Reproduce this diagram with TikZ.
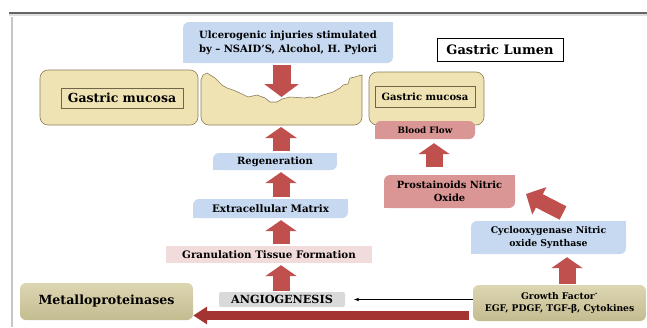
\documentclass[tikz,border=0pt]{standalone}
\usepackage{fontspec}
\setmainfont{DejaVu Serif}
\usetikzlibrary{arrows.meta,backgrounds}
\definecolor{ared}{HTML}{C0504D}
\definecolor{adark}{HTML}{A33432}
\definecolor{lblue}{HTML}{C6D9F1}
\definecolor{lpink}{HTML}{F2DCDB}
\definecolor{mpink}{HTML}{DA9694}
\definecolor{muc}{HTML}{EFE2B3}
\definecolor{mucd}{HTML}{8C7E5A}
\definecolor{khakit}{HTML}{DCD6B2}
\definecolor{khakib}{HTML}{C4BC90}
\definecolor{lgray}{HTML}{D9D9D9}
\newcommand\fsz[2]{\fontsize{#1}{#2}\selectfont}
\newcommand\sqc[3]{\fill[#2] (#1.north east) rectangle ++(-#3,#3); \fill[#2] (#1.south west) rectangle ++(#3,-#3);}
\tikzset{
  box/.style={inner sep=0pt, align=center},
  diagbox/.style={box, rounded corners=6pt},
  blk/.style={ared, line width=17pt, -{Triangle[width=31pt 0 0,length=11pt 0 0]}, shorten <=2pt, shorten >=2pt},
  mucbox/.style={draw=mucd, fill=muc, line width=0.6pt, rounded corners=8pt, inner sep=0pt},
  khaki/.style={box, top color=khakit, bottom color=khakib, rounded corners=6pt},
}
\begin{document}
\begin{tikzpicture}[x=1pt,y=-1pt]
\useasboundingbox (0,0) rectangle (647,327);
% frame lines
\fill[gray!25] (9,13) rectangle (647,16);
\draw[gray!80!black, line width=1.2pt] (9,13) -- (647,13);
\draw[gray!45, line width=1.6pt] (12,17) -- (12,327);

% top
\node[diagbox, fill=lblue, minimum width=210pt, minimum height=41pt, font=\bfseries\fsz{10}{14}] (ulc) at (288,42.5)
  {Ulcerogenic injuries stimulated\\by – NSAID’S, Alcohol, H. Pylori};
\node[box, draw=black, line width=0.5pt, fill=white, minimum width=126pt, minimum height=23pt, font=\bfseries\fsz{13}{14}] (lumen) at (500,49.5)
  {Gastric Lumen};

% mucosa
\node[mucbox, minimum width=158pt, minimum height=55pt] (lmuc) at (119,97.5) {};
\node[box, draw=mucd!80!black, line width=0.5pt, minimum width=122pt, minimum height=20pt, font=\bfseries\fsz{12.5}{14}] (lmuct) at (122,98)
  {Gastric mucosa};
\node[mucbox, minimum width=115pt, minimum height=53pt] (rmuc) at (426.5,98.5) {};
\node[box, draw=mucd!80!black, line width=0.5pt, minimum width=100pt, minimum height=21pt, font=\bfseries\fsz{10}{12}] (rmuct) at (425,96.5)
  {Gastric mucosa};
\draw[mucd, fill=muc, line width=0.6pt]
  (201,100) [rounded corners=8pt] -- (201,125) -- (362,125) -- (362,100) [sharp corners] -- (362,75)
  -- (358,76) -- (355,77) -- (350,78) -- (348,84) -- (343,85) -- (340,88) -- (333,92) -- (323,95)
  -- (315,98) -- (310,97) -- (305,98) -- (290,97) -- (282,99) -- (277,102) -- (270,102) -- (265,98)
  -- (257,95) -- (248,97) -- (240,93) -- (233,90) -- (227,88) -- (222,85) -- (215,78) -- (207,73)
  -- (203,75) -- (201,80) -- cycle;
\coordinate (ulcbot) at (281,125);
\coordinate (dip) at (281.5,97);

% centre column
\node[diagbox, fill=lblue, minimum width=124pt, minimum height=17pt, font=\bfseries\fsz{10}{12}] (regen) at (275,161.5)
  {Regeneration};
\node[diagbox, fill=lblue, minimum width=155pt, minimum height=19pt, font=\bfseries\fsz{10.3}{12}] (extra) at (270.5,208.5)
  {Extracellular Matrix};
\node[box, fill=lpink, minimum width=206pt, minimum height=17pt, font=\bfseries\fsz{10.3}{12}] (gran) at (269,254.5)
  {Granulation Tissue Formation};
\node[box, fill=lgray, rounded corners=2pt, minimum width=126pt, minimum height=15pt, font=\bfseries\fsz{11.2}{12}] (angio) at (282,299.5)
  {ANGIOGENESIS};

% bottom
\node[khaki, minimum width=173pt, minimum height=37pt, font=\bfseries\fsz{12.6}{14}] (metal) at (106.5,301.5)
  {Metalloproteinases};
\node[khaki, minimum width=173pt, minimum height=36pt, font=\bfseries\fsz{9.2}{12.5}] (growth) at (559.5,303)
  {Growth Factor\textsuperscript{-}\\EGF, PDGF, TGF-β, Cytokines};

% right column
\node[diagbox, fill=lblue, minimum width=155pt, minimum height=33pt, font=\bfseries\fsz{9.3}{13}] (cyclo) at (548.5,237.5)
  {Cyclooxygenase Nitric\\oxide Synthase};
\node[diagbox, fill=mpink, minimum width=131pt, minimum height=33pt, font=\bfseries\fsz{9.9}{13}] (pros) at (449.5,191.5)
  {Prostainoids Nitric\\Oxide};
\node[diagbox, fill=mpink, minimum width=100pt, minimum height=18pt, font=\bfseries\fsz{8.8}{10}] (blood) at (425,130)
  {Blood Flow};

\begin{pgfonlayer}{background}
\sqc{ulc}{lblue}{7}
\sqc{regen}{lblue}{7}
\sqc{extra}{lblue}{7}
\sqc{cyclo}{lblue}{7}
\sqc{pros}{mpink}{7}
\sqc{blood}{mpink}{7}
\end{pgfonlayer}

% block arrows
\coordinate (colx) at (281,0);
\coordinate (diagtail) at (563,213);
\coordinate (diagtip) at (526,194);
\draw[blk, line width=18pt, -{Triangle[width=34pt 0 0,length=13pt 0 0]}, shorten >=0pt] (dip |- ulc.south) -- (dip);
\draw[blk] (regen.north -| colx) -- (ulcbot);
\draw[blk] (extra.north -| colx) -- (regen.south -| colx);
\draw[blk] (gran.north -| colx) -- (extra.south -| colx);
\draw[blk, shorten <=1pt] (angio.north -| colx) -- (gran.south -| colx);
\coordinate (bx) at (434,0);
\draw[blk, shorten <=8pt, shorten >=4pt] (pros.north -| bx) -- (blood.south -| bx);
\coordinate (gx) at (567,0);
\draw[blk, shorten <=1pt, shorten >=3pt] (growth.north -| gx) -- (cyclo.south -| gx);
\draw[blk, line width=15pt, -{Triangle[width=30pt 0 0,length=15pt 0 0]}, shorten <=0pt, shorten >=0pt] (diagtail) -- (diagtip);

% long arrow and thin arrow
\coordinate (ly) at (0,315.5);
\draw[adark, line width=9pt, -{Triangle[width=17pt 0 0,length=14pt 0 0]}, shorten <=4pt] (growth.west |- ly) -- (metal.east |- ly);
\coordinate (ty) at (0,299.5);
\draw[black, line width=0.6pt, -{Stealth[length=5pt,width=3.5pt]}, shorten >=9pt] (growth.west |- ty) -- (angio.east |- ty);
\end{tikzpicture}
\end{document}
